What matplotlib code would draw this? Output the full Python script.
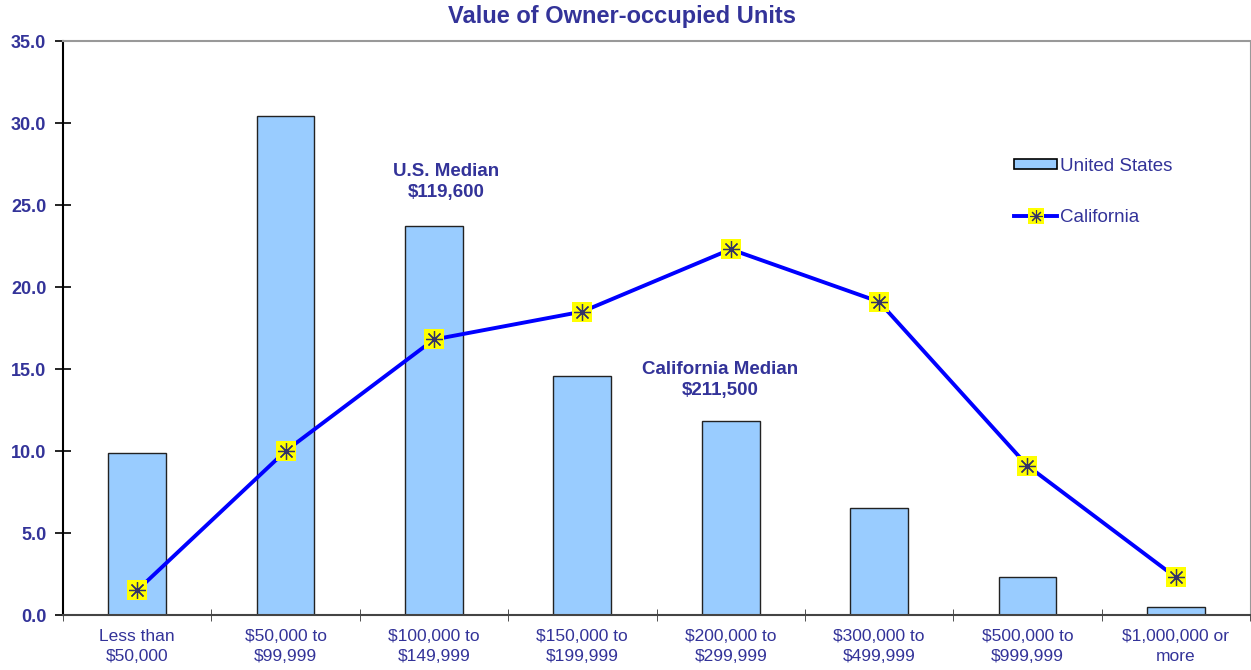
import matplotlib.pyplot as plt
import numpy as np
from matplotlib.lines import Line2D

plt.rcParams['font.family'] = ['Liberation Sans', 'DejaVu Sans']

# Data
categories = ['Less than\n$50,000', '$50,000 to\n$99,999', '$100,000 to\n$149,999',
              '$150,000 to\n$199,999', '$200,000 to\n$299,999', '$300,000 to\n$499,999',
              '$500,000 to\n$999,999', '$1,000,000 or\nmore']
united_states = [9.9, 30.4, 23.7, 14.6, 11.8, 6.5, 2.3, 0.5]
california = [1.5, 10.0, 16.8, 18.5, 22.3, 19.1, 9.1, 2.3]

navy = '#333399'
x = np.arange(len(categories))

fig = plt.figure(figsize=(12.51, 6.70), dpi=100)
ax = fig.add_axes([63 / 1251, 1 - 615 / 670, (1250 - 63) / 1251, (615 - 41) / 670])

ax.bar(x, united_states, 0.39, color='#99CCFF', edgecolor='#222222', linewidth=1.0,
       label='United States', zorder=2)
ax.plot(x, california, color='#0000FF', linewidth=2.8, zorder=3)
# yellow square markers with an asterisk on top
ax.plot(x, california, linestyle='none', marker='s', markersize=14,
        markerfacecolor='#FFFF00', markeredgewidth=0, zorder=4)
ax.plot(x, california, linestyle='none', marker=(8, 2, 0), markersize=12,
        markeredgecolor='#333366', markeredgewidth=0.9, zorder=5)

# legend handles
cal_handle = (Line2D([], [], color='#0000FF', linewidth=2.8),
              Line2D([], [], linestyle='none', marker='s', markersize=11,
                     markerfacecolor='#FFFF00', markeredgewidth=0),
              Line2D([], [], linestyle='none', marker=(8, 2, 0), markersize=9,
                     markeredgecolor='#333366', markeredgewidth=0.8))
bar_handle = plt.Rectangle((0, 0), 1, 1, facecolor='#99CCFF', edgecolor='black', linewidth=1.2)
leg = ax.legend([bar_handle, cal_handle], ['United States', 'California'],
                loc='upper left', bbox_to_anchor=(0.787, 0.826), frameon=False,
                fontsize=13.5, labelspacing=1.85, handlelength=2.3, handletextpad=0.15,
                handleheight=0.5)
for t in leg.get_texts():
    t.set_color(navy)

ax.set_xlim(-0.5, 7.5)
ax.set_ylim(0, 35)
ax.set_yticks(np.arange(0, 35.1, 5))
ax.set_yticklabels([f'{v:.1f}' for v in np.arange(0, 35.1, 5)],
                   fontsize=13, fontweight='bold', color=navy)
ax.set_xticks(x)
ax.set_xticklabels(categories, fontsize=12.5, color=navy, linespacing=1.4)
ax.set_xticks(np.arange(-0.5, 7.6, 1), minor=True)
ax.tick_params(axis='x', which='major', length=0, pad=10)
ax.tick_params(axis='x', which='minor', direction='inout', length=8, color='#333333')
ax.tick_params(axis='y', direction='inout', length=12, width=1.2, color='black', pad=6)

ax.spines['left'].set_color('black')
ax.spines['left'].set_linewidth(1.5)
ax.spines['bottom'].set_color('#444444')
ax.spines['bottom'].set_linewidth(1.5)
ax.spines['top'].set_color('#999999')
ax.spines['top'].set_linewidth(1.5)
ax.spines['right'].set_color('#999999')

ax.text(2.08, 26.4, 'U.S. Median\n$119,600', ha='center', va='center', fontsize=13.5,
        fontweight='bold', color=navy, linespacing=1.3)
ax.text(3.93, 14.33, 'California Median\n$211,500', ha='center', va='center', fontsize=13.5,
        fontweight='bold', color=navy, linespacing=1.3)

fig.text(622 / 1251, 1 - 17 / 670, 'Value of Owner-occupied Units', ha='center', va='center',
         fontsize=17, fontweight='bold', color=navy)

fig.savefig('out.png', dpi=100)
